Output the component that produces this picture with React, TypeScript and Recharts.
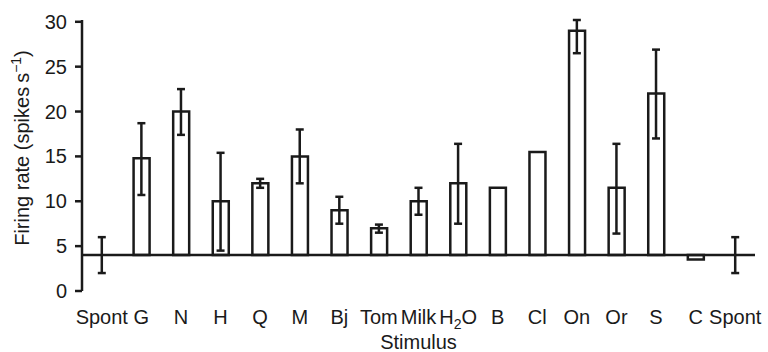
import { ComposedChart, Bar, Line, XAxis, YAxis, ErrorBar, ReferenceLine } from 'recharts'

const stimuli = ['Spont', 'G', 'N', 'H', 'Q', 'M', 'Bj', 'Tom', 'Milk', 'H2O', 'B', 'Cl', 'On', 'Or', 'S', 'C', 'Spont']
const rates = [4, 14.8, 20, 10, 12, 15, 9, 7, 10, 12, 11.5, 15.5, 29, 11.5, 22, 3.5, 4]
const errLow = [2, 10.7, 17.4, 4.5, 11.5, 12, 7.5, 6.5, 8.5, 7.5, null, null, 26.5, 6.4, 17, null, 2]
const errHigh = [6, 18.7, 22.5, 15.4, 12.5, 18, 10.5, 7.4, 11.5, 16.4, null, null, 30.2, 16.4, 26.9, null, 6]
const spontLevel = 4
const yTicks = [0, 5, 10, 15, 20, 25, 30]

const INK = '#1a1a1a'
const FONT = '"Liberation Sans", Arial, Helvetica, sans-serif'
const FS = 20

const data = stimuli.map(function (name, i) {
  const lo = errLow[i]
  const hi = errHigh[i]
  return {
    name: name,
    rate: rates[i],
    range: [spontLevel, rates[i]],
    err: lo == null || hi == null ? null : [rates[i] - lo, hi - rates[i]],
  }
})

function StimulusTick(props: any) {
  const { x, y, payload } = props
  const label = payload.value
  if (label === 'H2O') {
    return (
      <text x={x} y={y + 25} textAnchor="middle" fill={INK} fontSize={FS} fontFamily={FONT}>
        <tspan>H</tspan>
        <tspan dy={5} fontSize={14}>2</tspan>
        <tspan dy={-5}>O</tspan>
      </text>
    )
  }
  return (
    <text x={x} y={y + 25} textAnchor="middle" fill={INK} fontSize={FS} fontFamily={FONT}>
      {label}
    </text>
  )
}

function RateLabel() {
  return (
    <text
      transform="translate(29,148) rotate(-90)"
      textAnchor="middle"
      fill={INK}
      fontSize={FS}
      fontFamily={FONT}
    >
      <tspan>Firing rate (spikes{'\u2009'}s</tspan>
      <tspan dy={-8} fontSize={14}>−1</tspan>
      <tspan dy={8}>)</tspan>
    </text>
  )
}

function StimulusLabel(props: any) {
  const { viewBox } = props
  return (
    <text
      x={viewBox.x + viewBox.width / 2}
      y={349}
      textAnchor="middle"
      fill={INK}
      fontSize={FS}
      fontFamily={FONT}
    >
      Stimulus
    </text>
  )
}

export default function App() {
  return (
    <div style={{ position: 'absolute', left: 0, top: 0, width: 768, height: 352, background: '#fff' }}>
      <ComposedChart
        width={768}
        height={352}
        data={data}
        margin={{ top: 20, right: 13, bottom: 21, left: 0 }}
      >
        <XAxis
          dataKey="name"
          height={40}
          axisLine={false}
          tickLine={false}
          interval={0}
          tick={StimulusTick}
          label={{ content: StimulusLabel }}
        />
        <YAxis
          width={82}
          domain={[0, 30]}
          ticks={yTicks}
          interval={0}
          axisLine={{ stroke: INK, strokeWidth: 2.5 }}
          tickLine={{ stroke: INK, strokeWidth: 2.5 }}
          tickSize={7}
          tickMargin={8}
          tick={{ fill: INK, fontSize: FS, fontFamily: FONT }}
          label={{ content: RateLabel }}
        />
        <ReferenceLine y={spontLevel} stroke={INK} strokeWidth={2.5} ifOverflow="extendDomain" />
        <Bar
          dataKey="range"
          barSize={16}
          fill="#fff"
          stroke={INK}
          strokeWidth={2.5}
          isAnimationActive={false}
        />
        <Line
          dataKey="rate"
          stroke="none"
          dot={false}
          activeDot={false}
          legendType="none"
          isAnimationActive={false}
        >
          <ErrorBar dataKey="err" width={4} stroke={INK} strokeWidth={2.5} direction="y" />
        </Line>
      </ComposedChart>
    </div>
  )
}
